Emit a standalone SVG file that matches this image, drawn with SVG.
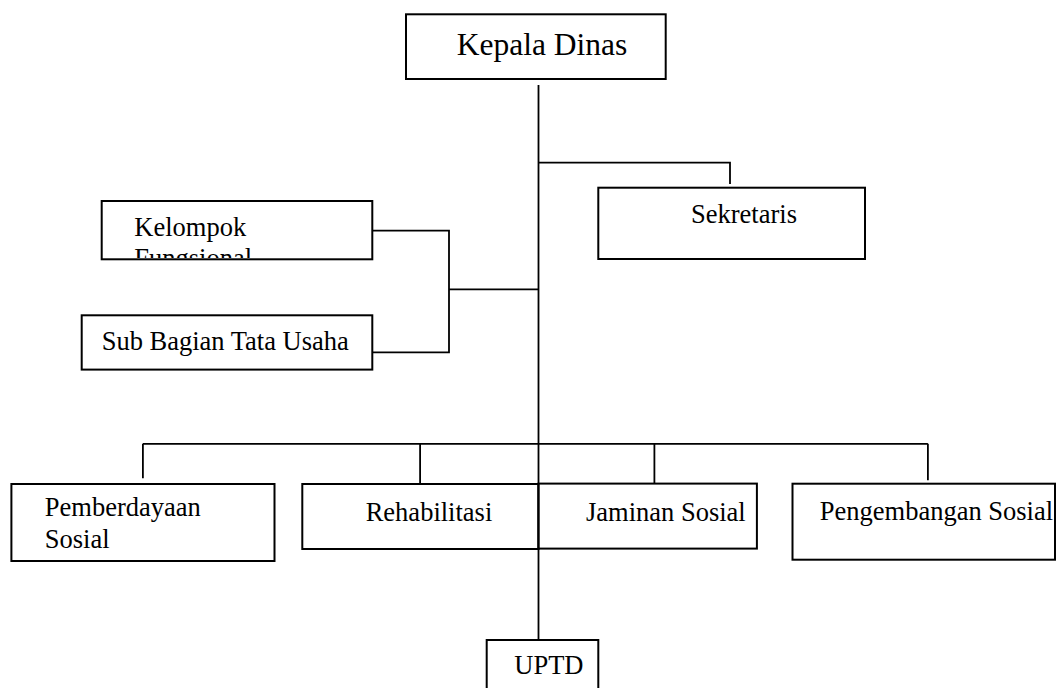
<svg xmlns="http://www.w3.org/2000/svg" width="1056" height="688" viewBox="0 0 1056 688">
<style>
.box{fill:#fff;stroke:#000;stroke-width:2}
.ln{fill:none;stroke:#000;stroke-width:1.8}
text{font-family:"Liberation Serif","Times New Roman",serif;fill:#000;font-size:26.5px}
.big{font-size:31.5px}
</style>
<defs>
<clipPath id="clipKF"><rect x="102" y="201" width="270" height="57"/></clipPath>
</defs>
<rect width="1056" height="688" fill="#fff"/>
<g id="connectors">
<path class="ln" d="M538.5 85 V643"/>
<path class="ln" d="M538.5 162.7 H730 V184"/>
<path class="ln" d="M372 230.7 H449 V352.3 H370"/>
<path class="ln" d="M449 289.3 H538.5"/>
<path class="ln" d="M142.9 443.8 H927.9"/>
<path class="ln" d="M142.9 443.8 V478.2"/>
<path class="ln" d="M420.1 443.8 V484"/>
<path class="ln" d="M654.4 443.8 V483.6"/>
<path class="ln" d="M927.9 443.8 V480.3"/>
</g>
<g id="kepala-dinas">
<rect class="box" x="406" y="14.3" width="259.7" height="64.7"/>
<text class="big" x="456.7" y="55">Kepala Dinas</text>
</g>
<g id="sekretaris">
<rect class="box" x="598.3" y="187.7" width="266.7" height="71.3"/>
<text x="691" y="222.7">Sekretaris</text>
</g>
<g id="kelompok-fungsional">
<rect class="box" x="101.7" y="201" width="270.6" height="58.3"/>
<g clip-path="url(#clipKF)">
<text x="134.3" y="235.5">Kelompok</text>
<text x="134.3" y="267">Fungsional</text>
</g>
</g>
<g id="sub-bagian-tata-usaha">
<rect class="box" x="81.7" y="315.3" width="290.6" height="54.3"/>
<text x="101.7" y="350">Sub Bagian Tata Usaha</text>
</g>
<g id="pemberdayaan-sosial">
<rect class="box" x="11.4" y="484" width="263.1" height="77"/>
<text x="44.8" y="516">Pemberdayaan</text>
<text x="44.8" y="548">Sosial</text>
</g>
<g id="rehabilitasi">
<rect class="box" x="302.3" y="484" width="236.2" height="65"/>
<text x="365.7" y="521">Rehabilitasi</text>
</g>
<g id="jaminan-sosial">
<rect class="box" x="538.5" y="483.6" width="218.4" height="65"/>
<text x="586" y="520.6">Jaminan Sosial</text>
</g>
<g id="pengembangan-sosial">
<rect class="box" x="792.5" y="483.7" width="262.5" height="76"/>
<text x="819.8" y="519.6">Pengembangan Sosial</text>
</g>
<g id="uptd">
<rect class="box" x="486.7" y="640" width="111.6" height="60"/>
<text x="514.3" y="674">UPTD</text>
</g>
<path class="ln" d="M538.5 483.6 V549"/>
</svg>
